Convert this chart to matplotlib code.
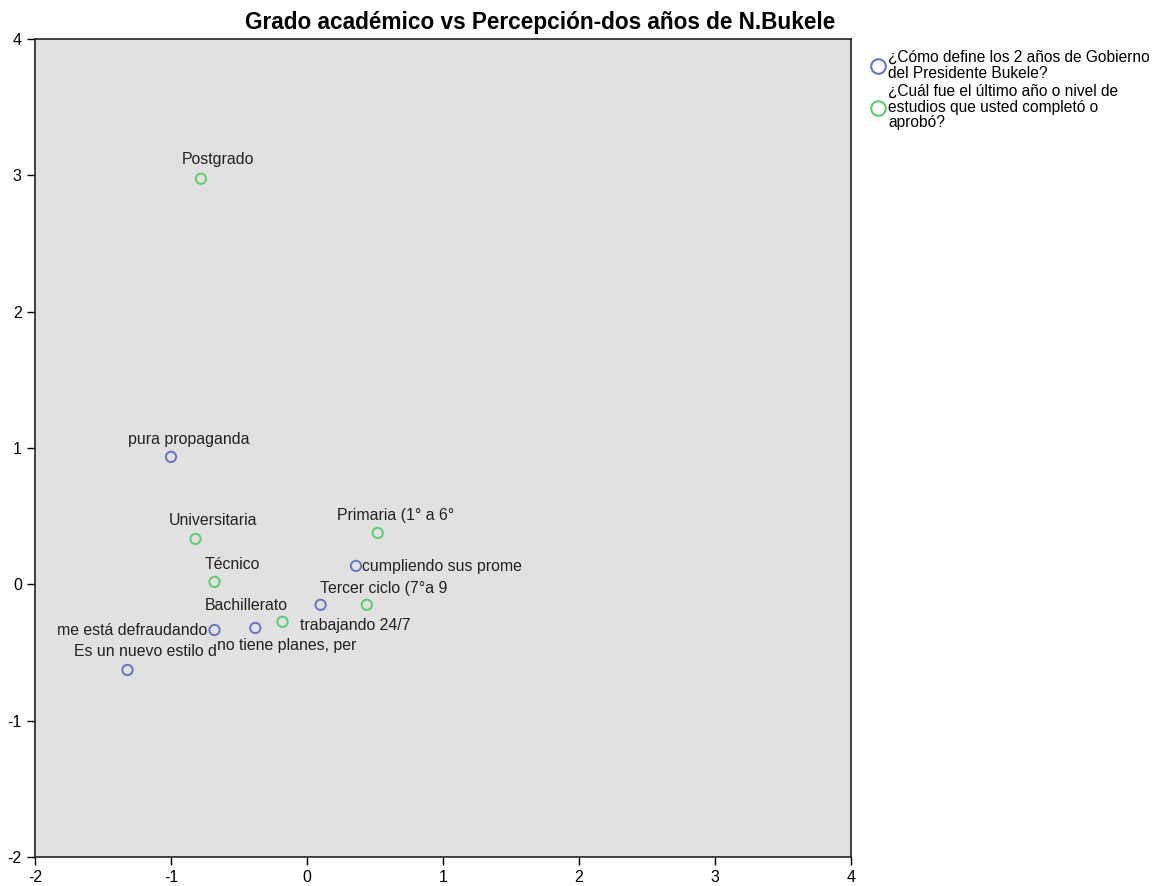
import matplotlib
matplotlib.use("Agg")
import matplotlib.pyplot as plt
from matplotlib.lines import Line2D

plt.rcParams['font.family'] = ['Liberation Sans', 'DejaVu Sans']
plt.rcParams['axes.unicode_minus'] = False

# Data
blue_labels = ["pura propaganda", "cumpliendo sus prome", "trabajando 24/7",
               "me está defraudando", "no tiene planes, per", "Es un nuevo estilo d"]
blue_x = [-1.00, 0.36, 0.10, -0.68, -0.38, -1.32]
blue_y = [0.935, 0.135, -0.15, -0.335, -0.32, -0.628]

green_labels = ["Postgrado", "Universitaria", "Técnico", "Primaria (1° a 6°",
                "Tercer ciclo (7°a 9", "Bachillerato"]
green_x = [-0.78, -0.82, -0.68, 0.52, 0.44, -0.18]
green_y = [2.975, 0.333, 0.018, 0.377, -0.15, -0.275]

legend_labels = ["¿Cómo define los 2 años de Gobierno\ndel Presidente Bukele?",
                 "¿Cuál fue el último año o nivel de\nestudios que usted completó o\naprobó?"]

# label offsets in pixels (dx, dy) and alignment
blue_off = [(18, 17, 'center'), (6, -1, 'left'), (-21, -21, 'left'),
            (-7, 0, 'right'), (-38, -18, 'left'), (18, 18, 'center')]
green_off = [(17, 19, 'center'), (18, 18, 'center'), (18, 17, 'center'),
             (18, 17, 'center'), (17, 16, 'center'), (-36, 16, 'center')]

BLUE = '#6475c4'
GREEN = '#5ccc6e'

fig = plt.figure(figsize=(11.69, 8.86), dpi=100)
ax = fig.add_axes([35/1169, (886-857)/886, (851-35)/1169, (857-39)/886])
ax.set_facecolor('#e1e1e1')
ax.set_xlim(-2, 4)
ax.set_ylim(-2, 4)

ax.scatter(blue_x, blue_y, s=55, facecolors='none', edgecolors=BLUE, linewidths=1.4, zorder=3)
ax.scatter(green_x, green_y, s=55, facecolors='none', edgecolors=GREEN, linewidths=1.4, zorder=3)

k = 72/100
for lab, x, y, (dx, dy, ha) in zip(blue_labels, blue_x, blue_y, blue_off):
    ax.annotate(lab, (x, y), xytext=(dx*k, dy*k), textcoords='offset points',
                ha=ha, va='center', fontsize=11.4, color='#222222')
for lab, x, y, (dx, dy, ha) in zip(green_labels, green_x, green_y, green_off):
    ax.annotate(lab, (x, y), xytext=(dx*k, dy*k), textcoords='offset points',
                ha=ha, va='center', fontsize=11.4, color='#222222')

ax.set_xticks(range(-2, 5))
ax.set_yticks(range(-2, 5))
ax.tick_params(direction='out', length=6, width=1, labelsize=11.5, colors='black')
for s in ax.spines.values():
    s.set_linewidth(1.2)
    s.set_color('#222222')

fig.text(540/1169, 1-22/886, "Grado académico vs Percepción-dos años de N.Bukele",
         fontsize=16.3, fontweight='bold', ha='center', va='center')

handles = [Line2D([], [], marker='o', linestyle='none', markerfacecolor='none',
                  markeredgecolor=BLUE, markersize=10.5, markeredgewidth=1.5),
           Line2D([], [], marker='o', linestyle='none', markerfacecolor='none',
                  markeredgecolor=GREEN, markersize=10.5, markeredgewidth=1.5)]
leg = fig.legend(handles, legend_labels, loc='upper left', bbox_to_anchor=(864/1169, 1-44/886),
                 frameon=False, fontsize=11.2, handletextpad=0.15, borderaxespad=0,
                 labelspacing=0.2, handlelength=1.0)
for t in leg.get_texts():
    t.set_linespacing(1.05)

fig.savefig("out.png", dpi=100)
